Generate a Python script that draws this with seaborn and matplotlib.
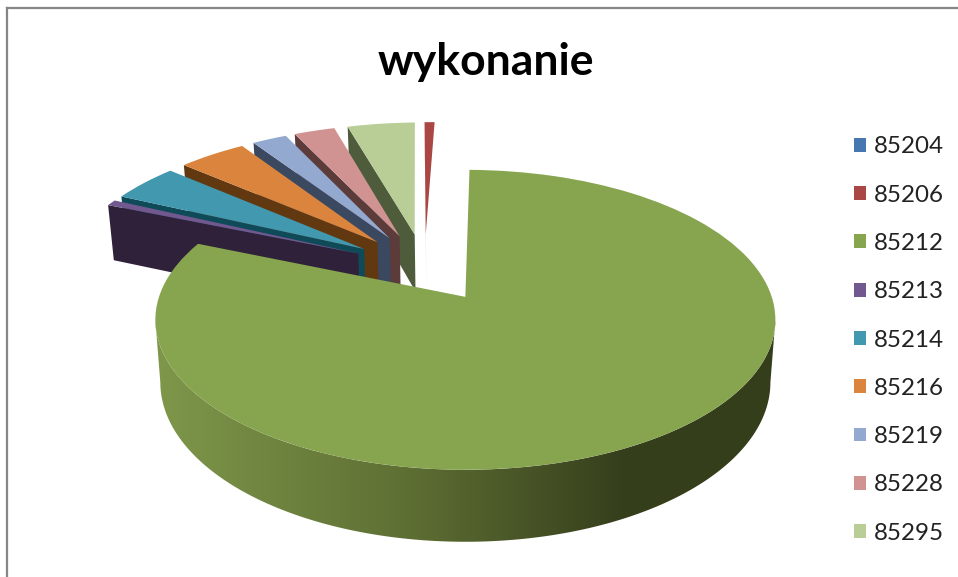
import numpy as np
import matplotlib
matplotlib.use("Agg")
import matplotlib.pyplot as plt
from matplotlib.colors import LinearSegmentedColormap
from matplotlib.patches import Polygon
from matplotlib.transforms import Transform
import seaborn as sns

labels = ["85204", "85206", "85212", "85213", "85214", "85216", "85219", "85228", "85295"]
values = [0.0, 0.64, 81.1, 0.67, 4.3, 4.3, 2.2, 2.6, 4.3]

top_colors = ["#4677b0", "#aa4643", "#87a44f", "#71588f", "#4198af",
              "#db843d", "#93a9cf", "#d19392", "#b9cd96"]
wall_colors = ["#26405f", "#7a2d2b", "#4d5c2c", "#2e2139", "#0f4a58",
               "#61380f", "#3a4860", "#5c3b3b", "#4e5c3c"]
# painter's order for the slices behind the big one, right to left
back_order = [1, 8, 7, 6, 5, 4, 3]


# pie coordinates -> picture pixels, tilted with a bit of perspective
class PieProjection(Transform):
    input_dims = 2
    output_dims = 2
    is_separable = False
    has_inverse = False

    def __init__(self, drop=0.0):
        super().__init__()
        self.drop = drop

    def transform_non_affine(self, values):
        x, y = np.asarray(values, dtype=float).T
        w = 1 + 0.153 * y
        px = 465 + 306.4 * x / w * (1 - 0.016 * self.drop)
        py = 297 - 146.5 * y / w + 61 * self.drop / w
        return np.column_stack([px, py])


top = PieProjection(0.0)
bottom = PieProjection(1.0)

sns.set_theme(style="white")
plt.rcParams["font.family"] = ["Lato", "DejaVu Sans"]

fig = plt.figure(figsize=(9.58, 5.77), dpi=100)
ax = fig.add_axes([7 / 958, 0, 951 / 958, 569 / 577])

wedges, _ = ax.pie(
    values,
    colors=top_colors,
    explode=[0.25] * len(values),
    center=(-0.136, 0.21),
    startangle=91.4,
    counterclock=False,
    frame=True,
)
for wedge in wedges:
    wedge.set_transform(top + ax.transData)
    wedge.set_linewidth(0)


def edge_points(wedge, theta):
    cx, cy = wedge.center
    t = np.radians(theta)
    return np.array([[cx, cy], [cx + wedge.r * np.cos(t), cy + wedge.r * np.sin(t)]])


# sides of the small slices, only the face turned towards the viewer shows
for z, i in enumerate(back_order):
    wedge = wedges[i]
    pts = edge_points(wedge, wedge.theta2)
    quad = np.vstack([top.transform_non_affine(pts), bottom.transform_non_affine(pts)[::-1]])
    ax.fill(quad[:, 0], quad[:, 1], color=wall_colors[i], lw=0, zorder=2 + z)
    wedge.set_zorder(2.5 + z)

# rim of the big slice, front half only, shaded left to right
big = wedges[2]
t = np.radians(np.linspace(big.theta1, big.theta2, 400))
arc = np.column_stack([big.center[0] + big.r * np.cos(t), big.center[1] + big.r * np.sin(t)])
arc_px = top.transform_non_affine(arc)
left, right = sorted([arc_px[:, 0].argmin(), arc_px[:, 0].argmax()])
front = arc[left:right + 1]
rim = np.vstack([top.transform_non_affine(front), bottom.transform_non_affine(front)[::-1]])
rim_cmap = LinearSegmentedColormap.from_list(
    "rim", [(0, "#7f984b"), (0.4, "#5f7034"), (0.75, "#363f1c"), (1, "#353e1b")]
)
im = ax.imshow(
    np.linspace(0, 1, 256)[None, :],
    cmap=rim_cmap,
    extent=(150, 780, 560, 160),
    aspect="auto",
    zorder=20,
)
im.set_clip_path(Polygon(rim, transform=ax.transData))
big.set_zorder(21)

ax.set_aspect("auto")
ax.set_xlim(7, 958)
ax.set_ylim(577, 8)
ax.set_xticks([])
ax.set_yticks([])

ax.text(486, 62, "wykonanie", fontsize=32, fontweight="bold", color="black",
        ha="center", va="center", zorder=30)

legend = ax.legend(
    wedges,
    labels,
    loc="center left",
    bbox_to_anchor=(854, 340),
    bbox_transform=ax.transData,
    frameon=False,
    fontsize=17.4,
    handlelength=0.5,
    handleheight=0.5,
    handletextpad=0.32,
    labelspacing=1.13,
    labelcolor="#222222",
    borderpad=0,
    borderaxespad=0,
)
legend.set_zorder(30)

sns.despine(ax=ax, right=True, bottom=True)
for side in ("left", "top"):
    ax.spines[side].set_visible(True)
    ax.spines[side].set_color("#868686")
    ax.spines[side].set_linewidth(1.6)
ax.spines["left"].set_zorder(40)

fig.savefig("out.png", dpi=100)
